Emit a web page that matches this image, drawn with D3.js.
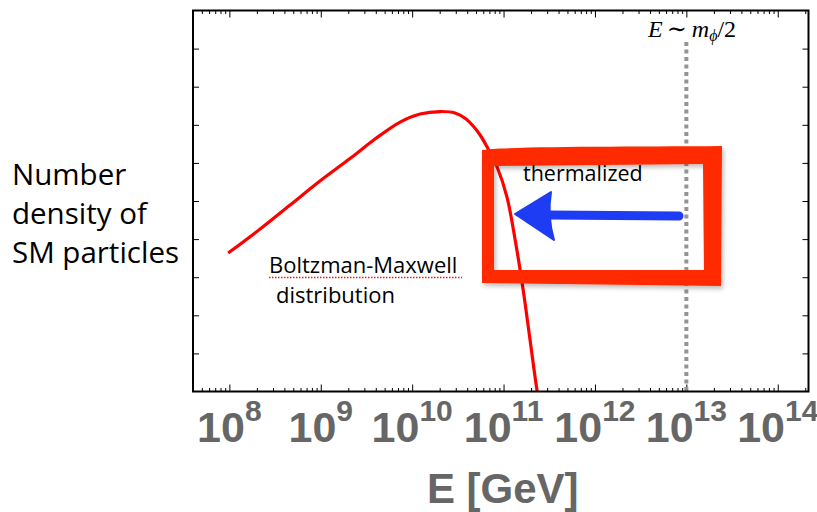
<!DOCTYPE html>
<html>
<head>
<meta charset="utf-8">
<script src="https://cdn.jsdelivr.net/npm/d3@7"></script>
<style>
body { margin: 0; background: #fff; }
</style>
</head>
<body>
<svg width="817" height="512"></svg>
<script>
// curve (E in GeV, number density in arbitrary units)
const energyGeV = [9.7e7, 2.17e8, 4.62e8, 9.8e8, 2.09e9, 3.93e9, 7.38e9, 1.22e10, 2.02e10, 2.94e10, 3.89e10, 4.65e10, 5.54e10, 6.61e10, 8.5e10, 1.09e11, 1.34e11, 1.64e11, 1.95e11, 2.33e11, 2.57e11];
const density   = [4.3e3, 1.84e4, 7.85e4, 3.35e5, 1.3e6, 4.24e6, 1.18e7, 1.92e7, 2.23e7, 2.04e7, 1.42e7, 9.3e6, 5.4e6, 2.61e6, 7.8e5, 1.27e5, 9.5e3, 4.6e2, 22.5, 1.03, 0.3];
const majorTicks = [1e8, 1e9, 1e10, 1e11, 1e12, 1e13, 1e14];
const tickExponents = ["8", "9", "10", "11", "12", "13", "14"];
const yTicks = [1e1, 1e2, 1e3, 1e4, 1e5, 1e6, 1e7, 1e8, 1e9];
const massLineE = 1e13;
const yLabelLines = ["Number", "density of", "SM particles"];

const svg = d3.select('svg');
const margin = {top: 10.5, left: 193, right: 8.5, bottom: 120.5};
const width = +svg.attr('width');
const height = +svg.attr('height');

const xScale = d3.scaleLog().domain([4.0e7, 2.17e14]).range([margin.left, width - margin.right]);
const yScale = d3.scaleLog().domain([1, 1e10]).range([height - margin.bottom, margin.top]);

svg.append('rect').attr('width', width).attr('height', height).attr('fill', '#fff');

// minor ticks for the log axis
const minorTicks = [];
for (let d = 7; d <= 14; d++) {
    for (let m = 2; m <= 9; m++) {
        const v = m * Math.pow(10, d);
        if (v > xScale.domain()[0] && v < xScale.domain()[1]) minorTicks.push(v);
    }
}

const axes = svg.append('g').attr('class', 'axes');
const bottomY = yScale.range()[0], topY = yScale.range()[1];

function styleAxis(g) {
    g.select('.domain').remove();
    g.selectAll('text').remove();
    g.selectAll('line').attr('stroke', '#000').attr('stroke-width', 1);
}
axes.append('g').attr('transform', `translate(0,${bottomY})`)
    .call(d3.axisBottom(xScale).tickValues(majorTicks).tickSizeInner(-7).tickSizeOuter(0)).call(styleAxis);
axes.append('g').attr('transform', `translate(0,${bottomY})`)
    .call(d3.axisBottom(xScale).tickValues(minorTicks).tickSizeInner(-3.5).tickSizeOuter(0)).call(styleAxis);
axes.append('g').attr('transform', `translate(0,${topY})`)
    .call(d3.axisTop(xScale).tickValues(majorTicks).tickSizeInner(-7).tickSizeOuter(0)).call(styleAxis);
axes.append('g').attr('transform', `translate(0,${topY})`)
    .call(d3.axisTop(xScale).tickValues(minorTicks).tickSizeInner(-3.5).tickSizeOuter(0)).call(styleAxis);
axes.append('g').attr('transform', `translate(${xScale.range()[0]},0)`)
    .call(d3.axisLeft(yScale).tickValues(yTicks).tickSizeInner(-6).tickSizeOuter(0)).call(styleAxis);
axes.append('g').attr('transform', `translate(${xScale.range()[1]},0)`)
    .call(d3.axisRight(yScale).tickValues(yTicks).tickSizeInner(-6).tickSizeOuter(0)).call(styleAxis);

// clip for the curve
svg.append('clipPath').attr('id', 'plotclip')
  .append('rect')
    .attr('x', xScale.range()[0]).attr('y', topY)
    .attr('width', xScale.range()[1] - xScale.range()[0])
    .attr('height', bottomY - topY);

// dotted line E ~ m_phi/2
svg.append('line')
    .attr('x1', xScale(massLineE)).attr('x2', xScale(massLineE))
    .attr('y1', 42).attr('y2', bottomY)
    .attr('stroke', '#949494').attr('stroke-width', 4)
    .attr('stroke-dasharray', '4,3.5');

// Boltzmann curve
const points = energyGeV.map((e, i) => ({e: e, n: density[i]}));
const line = d3.line()
    .x(d => xScale(d.e))
    .y(d => yScale(d.n))
    .curve(d3.curveCatmullRom.alpha(0.5));
svg.append('path')
    .datum(points)
    .attr('clip-path', 'url(#plotclip)')
    .attr('d', line)
    .attr('fill', 'none')
    .attr('stroke', '#ff0000')
    .attr('stroke-width', 3.2);

// frame
svg.append('rect')
    .attr('x', xScale.range()[0]).attr('y', topY)
    .attr('width', xScale.range()[1] - xScale.range()[0])
    .attr('height', bottomY - topY)
    .attr('fill', 'none').attr('stroke', '#000').attr('stroke-width', 2);

// tick labels 10^n
const labels = svg.selectAll('.xlabel')
    .data(majorTicks)
    .enter().append('text')
    .attr('class', 'xlabel')
    .attr('x', d => xScale(d))
    .attr('y', 442)
    .attr('text-anchor', 'middle')
    .attr('font-family', '"Liberation Sans", Arial, sans-serif')
    .attr('font-weight', 'bold')
    .attr('fill', '#666');
labels.append('tspan').attr('font-size', 43).text('10');
labels.append('tspan').attr('font-size', 30).attr('dy', -21).text((d, i) => tickExponents[i]);

svg.append('text')
    .attr('x', (xScale.range()[0] + xScale.range()[1]) / 2 + 2)
    .attr('y', 503)
    .attr('text-anchor', 'middle')
    .attr('font-family', '"Liberation Sans", Arial, sans-serif')
    .attr('font-weight', 'bold')
    .attr('font-size', 42)
    .attr('fill', '#666')
    .text('E [GeV]');

// y label (three lines)
svg.selectAll('.ylabel')
    .data(yLabelLines)
    .enter().append('text')
    .attr('class', 'ylabel')
    .attr('x', 12)
    .attr('y', (d, i) => 185 + i * 39)
    .attr('font-family', '"Open Sans", sans-serif')
    .attr('font-size', 29.5)
    .attr('fill', '#000')
    .text(d => d);

// E ~ m_phi / 2
const mlabel = svg.append('text')
    .attr('x', 648).attr('y', 37)
    .attr('font-family', '"Liberation Serif", "DejaVu Serif", serif')
    .attr('font-size', 24)
    .attr('fill', '#000');
mlabel.append('tspan').attr('font-style', 'italic').text('E');
mlabel.append('tspan').attr('dx', 4).text('\u223C');
mlabel.append('tspan').attr('dx', 5).attr('font-style', 'italic').text('m');
mlabel.append('tspan').attr('font-style', 'italic').attr('font-size', 16).attr('dy', 4).text('\u03D5');
mlabel.append('tspan').attr('dy', -4).text('/2');

// Boltzman-Maxwell annotation
svg.append('text')
    .attr('x', 269).attr('y', 273)
    .attr('font-family', '"Open Sans", sans-serif')
    .attr('font-size', 22)
    .text('Boltzman-Maxwell');
svg.append('line')
    .attr('x1', 269).attr('x2', 462).attr('y1', 277.5).attr('y2', 277.5)
    .attr('stroke', '#e02020').attr('stroke-width', 1.5)
    .attr('stroke-dasharray', '1.5,1.5');
svg.append('text')
    .attr('x', 276).attr('y', 303)
    .attr('font-family', '"Open Sans", sans-serif')
    .attr('font-size', 22)
    .text('distribution');

// hand drawn box + arrow
const defs = svg.append('defs');
const shadow = defs.append('filter').attr('id', 'shadow').attr('x', '-10%').attr('y', '-10%').attr('width', '130%').attr('height', '130%');
shadow.append('feDropShadow').attr('dx', 2).attr('dy', 3).attr('stdDeviation', 2).attr('flood-color', '#000').attr('flood-opacity', 0.25);

svg.append('path')
    .attr('d', 'M482,150 C520,146 620,147 722,146 L721,286 L482,283 Z ' +
               'M494,166 L703,164 L704,270 L494,270 Z')
    .attr('fill', '#ff2a00')
    .attr('fill-rule', 'evenodd')
    .attr('filter', 'url(#shadow)');

svg.append('text')
    .attr('x', 523).attr('y', 181)
    .attr('font-family', '"Open Sans", sans-serif')
    .attr('font-size', 21.5)
    .text('thermalized');

svg.append('line')
    .attr('x1', 548).attr('x2', 679).attr('y1', 215).attr('y2', 216)
    .attr('stroke', '#1f3cf5').attr('stroke-width', 9).attr('stroke-linecap', 'round');
svg.append('path')
    .attr('d', 'M515,214 L551,192 Q547,216 554,240 Z')
    .attr('fill', '#1f3cf5')
    .attr('stroke', '#1f3cf5').attr('stroke-width', 2).attr('stroke-linejoin', 'round');
</script>
</body>
</html>
